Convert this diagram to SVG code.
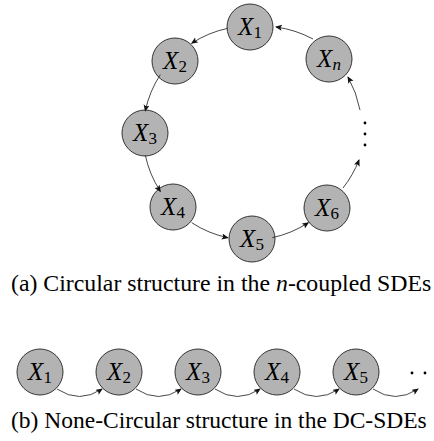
<svg xmlns="http://www.w3.org/2000/svg" width="434" height="441" viewBox="0 0 434 441">
  <defs>
    <marker id="arr" markerWidth="8" markerHeight="8" refX="6" refY="3" orient="auto" markerUnits="userSpaceOnUse">
      <path d="M0,0 L7,3 L0,6 L1.5,3 z" fill="#111"/>
    </marker>
  </defs>
  <rect width="434" height="441" fill="#fff"/>

  <!-- circular structure: nodes on a ring centred at (250,133); shared node look set on the wrapper -->
  <g id="ring-nodes" fill="#b3b3b3" stroke="#333333" stroke-width="1">
    <g id="c-x1"><circle cx="250" cy="27" r="23"/><text font-family="'Liberation Serif'" font-size="25" fill="#000" stroke="none" text-anchor="middle" x="250" y="35"><tspan font-style="italic">X</tspan><tspan font-size="17" dy="3">1</tspan></text></g>
    <g id="c-x2"><circle cx="175" cy="61" r="23"/><text font-family="'Liberation Serif'" font-size="25" fill="#000" stroke="none" text-anchor="middle" x="175" y="69"><tspan font-style="italic">X</tspan><tspan font-size="17" dy="3">2</tspan></text></g>
    <g id="c-x3"><circle cx="145" cy="133" r="23"/><text font-family="'Liberation Serif'" font-size="25" fill="#000" stroke="none" text-anchor="middle" x="145" y="141"><tspan font-style="italic">X</tspan><tspan font-size="17" dy="3">3</tspan></text></g>
    <g id="c-x4"><circle cx="173" cy="207" r="23"/><text font-family="'Liberation Serif'" font-size="25" fill="#000" stroke="none" text-anchor="middle" x="173" y="215"><tspan font-style="italic">X</tspan><tspan font-size="17" dy="3">4</tspan></text></g>
    <g id="c-x5"><circle cx="252" cy="239" r="23"/><text font-family="'Liberation Serif'" font-size="25" fill="#000" stroke="none" text-anchor="middle" x="252" y="247"><tspan font-style="italic">X</tspan><tspan font-size="17" dy="3">5</tspan></text></g>
    <g id="c-x6"><circle cx="327" cy="208" r="23"/><text font-family="'Liberation Serif'" font-size="25" fill="#000" stroke="none" text-anchor="middle" x="327" y="216"><tspan font-style="italic">X</tspan><tspan font-size="17" dy="3">6</tspan></text></g>
    <g id="c-xn"><circle cx="329" cy="59" r="23"/><text font-family="'Liberation Serif'" font-size="25" fill="#000" stroke="none" text-anchor="middle" x="329" y="67"><tspan font-style="italic">X</tspan><tspan font-size="17" font-style="italic" dy="3">n</tspan></text></g>
  </g>

  <!-- vertical ellipsis between X6 and Xn -->
  <g id="c-vdots" fill="#000">
    <circle cx="365" cy="123" r="1.4"/>
    <circle cx="365" cy="134" r="1.4"/>
    <circle cx="365" cy="145" r="1.4"/>
  </g>

  <g id="c-edges" fill="none" stroke="#333333" stroke-width="0.9" marker-end="url(#arr)">
    <path d="M 227.8 28.3 A 107 107 0 0 0 191.7 43.3"/>
    <path d="M 160.3 74.7 A 107 107 0 0 0 145.3 110.8"/>
    <path d="M 145.3 155.2 A 107 107 0 0 0 160.3 191.3"/>
    <path d="M 191.7 222.7 A 107 107 0 0 0 227.8 237.7"/>
    <path d="M 272.2 237.7 A 107 107 0 0 0 308.3 222.7"/>
    <path d="M 343 188 A 110 110 0 0 0 359 160"/>
    <path d="M 360 110 A 110 110 0 0 0 348 77"/>
    <path d="M 313 39 A 110 110 0 0 0 276 27"/>
  </g>

  <text font-family="'Liberation Serif'" font-size="23.8" fill="#000" x="11" y="291">(a) Circular structure in the <tspan font-style="italic">n</tspan>-coupled SDEs</text>

  <!-- linear chain -->
  <g id="chain-nodes" fill="#b3b3b3" stroke="#333333" stroke-width="1">
    <g id="l-x1"><circle cx="40" cy="372" r="23"/><text font-family="'Liberation Serif'" font-size="25" fill="#000" stroke="none" text-anchor="middle" x="40" y="380"><tspan font-style="italic">X</tspan><tspan font-size="17" dy="3">1</tspan></text></g>
    <g id="l-x2"><circle cx="119" cy="372" r="23"/><text font-family="'Liberation Serif'" font-size="25" fill="#000" stroke="none" text-anchor="middle" x="119" y="380"><tspan font-style="italic">X</tspan><tspan font-size="17" dy="3">2</tspan></text></g>
    <g id="l-x3"><circle cx="198" cy="372" r="23"/><text font-family="'Liberation Serif'" font-size="25" fill="#000" stroke="none" text-anchor="middle" x="198" y="380"><tspan font-style="italic">X</tspan><tspan font-size="17" dy="3">3</tspan></text></g>
    <g id="l-x4"><circle cx="277" cy="372" r="23"/><text font-family="'Liberation Serif'" font-size="25" fill="#000" stroke="none" text-anchor="middle" x="277" y="380"><tspan font-style="italic">X</tspan><tspan font-size="17" dy="3">4</tspan></text></g>
    <g id="l-x5"><circle cx="356" cy="372" r="23"/><text font-family="'Liberation Serif'" font-size="25" fill="#000" stroke="none" text-anchor="middle" x="356" y="380"><tspan font-style="italic">X</tspan><tspan font-size="17" dy="3">5</tspan></text></g>
  </g>

  <g id="l-hdots" fill="#000">
    <circle cx="412" cy="373" r="1.4"/>
    <circle cx="425" cy="373" r="1.4"/>
  </g>

  <g id="l-edges" fill="none" stroke="#333333" stroke-width="0.9" marker-end="url(#arr)">
    <path d="M 57 389 Q 79.5 404 102 389"/>
    <path d="M 136 389 Q 158.5 404 181 389"/>
    <path d="M 215 389 Q 237.5 404 260 389"/>
    <path d="M 294 389 Q 316.5 404 339 389"/>
    <path d="M 373 389 Q 395.5 404 418 389"/>
  </g>

  <text font-family="'Liberation Serif'" font-size="23.5" fill="#000" x="11" y="428">(b) None-Circular structure in the DC-SDEs</text>
</svg>
